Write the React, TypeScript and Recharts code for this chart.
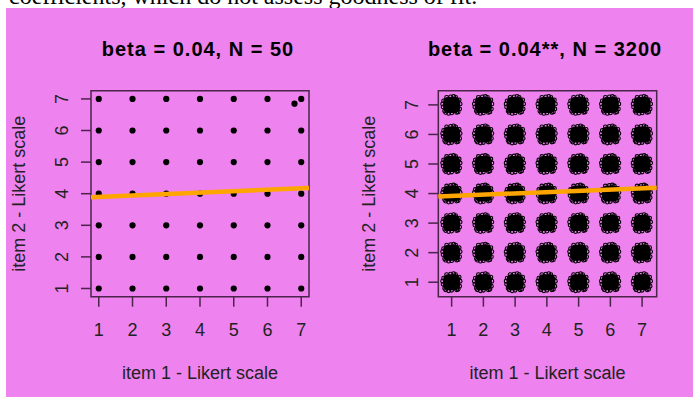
import React from 'react';
import { ScatterChart, Scatter, XAxis, YAxis, ReferenceLine, ReferenceArea, Label } from 'recharts';

// Likert levels used on both axes
const likertLevels = [1, 2, 3, 4, 5, 6, 7];

// small sample: one respondent per cell, plus one jittered extra near (7, 7)
const extraSmall = [{ x: 6.8, y: 6.85 }];
// regression lines at the edges of each plot
const fitSmall = [{ x: 0.77, y: 3.89 }, { x: 7.23, y: 4.18 }];
const fitLarge = [{ x: 0.58, y: 3.9 }, { x: 7.46, y: 4.2 }];

const gridCells = likertLevels.flatMap((y) => likertLevels.map((x) => ({ x, y })));
const smallSample = [...gridCells, ...extraSmall];
const largeSample = gridCells;

const FONT = "'Liberation Sans', Arial, Helvetica, sans-serif";
const INK = '#222';
const FRAME = '#4a244a';
const VIOLET = '#EE82EE';

// ragged outline of a jittered cloud of open circles
const cloudRing = [
  [-8, -4], [-8.5, 2], [-7, 6], [-5, -7.5], [-6, 7.5], [-1, -8], [0, 8], [4, -7.5],
  [5, 7.5], [7.5, -5], [8.5, -1], [8, 4], [6.5, 7], [-3, 8.5], [2, -8.5], [-9, -1],
];

const SmallDot = (p: any) => <circle cx={p.cx} cy={p.cy} r={3.1} fill="#000" />;

const Cloud = (p: any) => (
  <g>
    <rect x={p.cx - 8.5} y={p.cy - 8} width={17} height={16} rx={5} fill="#000" />
    {cloudRing.map(([dx, dy], i) => (
      <circle key={i} cx={p.cx + dx} cy={p.cy + dy} r={1.9} fill="none" stroke="#000" strokeWidth={1.1} />
    ))}
  </g>
);

const RotatedTick = (props: any) => {
  const { x, y, payload } = props;
  return (
    <text x={x} y={y} transform={`rotate(-90, ${x}, ${y})`} textAnchor="middle"
      fontSize={18} fill={INK} fontFamily={FONT}>
      {payload.value}
    </text>
  );
};

interface PanelProps {
  data: { x: number; y: number }[];
  fit: { x: number; y: number }[];
  xDomain: [number, number];
  yDomain: [number, number];
  yAxisWidth: number;
  rightMargin: number;
  yTickMargin: number;
  yTitleX: number;
  shape: any;
}

function Panel({ data, fit, xDomain, yDomain, yAxisWidth, rightMargin, yTickMargin, yTitleX, shape }: PanelProps) {
  return (
    <ScatterChart width={340} height={399} margin={{ top: 90.7, right: rightMargin, bottom: 0, left: 0 }}>
      <XAxis type="number" dataKey="x" domain={xDomain} ticks={likertLevels} allowDataOverflow
        interval={0} axisLine={false} tickLine={{ stroke: FRAME, strokeWidth: 1.5 }} tickSize={10}
        tickMargin={17} height={102.3} tick={{ fill: INK, fontSize: 18, fontFamily: FONT }}>
        <Label content={({ viewBox }: any) => (
          <text x={viewBox.x + viewBox.width / 2} y={viewBox.y + 82.3} textAnchor="middle"
            fontSize={18} fill={INK} fontFamily={FONT}>item 1 - Likert scale</text>
        )} />
      </XAxis>
      <YAxis type="number" dataKey="y" domain={yDomain} ticks={likertLevels} allowDataOverflow
        interval={0} axisLine={false} tickLine={{ stroke: FRAME, strokeWidth: 1.5 }} tickSize={10}
        tickMargin={yTickMargin} width={yAxisWidth} tick={<RotatedTick />}>
        <Label content={({ viewBox }: any) => {
          const cx = yTitleX;
          const cy = viewBox.y + viewBox.height / 2;
          return (
            <text x={cx} y={cy} transform={`rotate(-90, ${cx}, ${cy})`} textAnchor="middle"
              fontSize={18} fill={INK} fontFamily={FONT}>item 2 - Likert scale</text>
          );
        }} />
      </YAxis>
      <ReferenceArea x1={xDomain[0]} x2={xDomain[1]} y1={yDomain[0]} y2={yDomain[1]}
        fill="none" fillOpacity={0} stroke={FRAME} strokeWidth={1.5} ifOverflow="visible" />
      <Scatter data={data} shape={shape} isAnimationActive={false} />
      <ReferenceLine segment={fit} stroke="#FFA500" strokeWidth={4.5} ifOverflow="visible" zIndex={1000} />
    </ScatterChart>
  );
}

export default function App() {
  return (
    <div style={{ position: 'fixed', left: 0, top: 0, width: 693, height: 399, background: '#fff', overflow: 'hidden' }}>
      <svg width={693} height={399} style={{ position: 'absolute', left: 0, top: 0 }}>
        <text x={9} y={3.5} fontSize={24} fontFamily="'Liberation Serif', 'Times New Roman', serif" fill="#000">
          coefficients, which do not assess goodness of fit.
        </text>
        <rect x={6} y={8} width={687} height={389} fill={VIOLET} />
        <text x={198} y={56} textAnchor="middle" fontSize={20} fontWeight="bold" letterSpacing={1}
          fontFamily={FONT} fill="#000">beta = 0.04, N = 50</text>
        <text x={545} y={56} textAnchor="middle" fontSize={20} fontWeight="bold" letterSpacing={1}
          fontFamily={FONT} fill="#000">beta = 0.04**, N = 3200</text>
      </svg>
      <div style={{ position: 'absolute', left: 0, top: 0 }}>
        <Panel data={smallSample} fit={fitSmall} xDomain={[0.77, 7.23]} yDomain={[0.74, 7.26]}
          yAxisWidth={91} rightMargin={31} yTickMargin={12.7} yTitleX={25} shape={SmallDot} />
      </div>
      <div style={{ position: 'absolute', left: 347, top: 0 }}>
        <Panel data={largeSample} fit={fitLarge} xDomain={[0.58, 7.46]} yDomain={[0.51, 7.48]}
          yAxisWidth={91.3} rightMargin={30.3} yTickMargin={10} yTitleX={28} shape={Cloud} />
      </div>
    </div>
  );
}
